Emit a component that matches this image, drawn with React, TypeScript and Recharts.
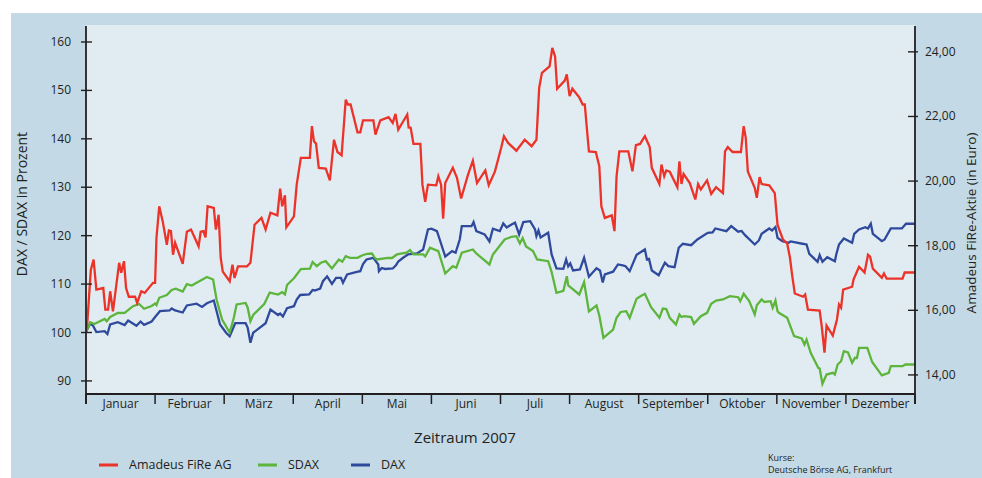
import React from 'react';
import { LineChart, Line, XAxis, YAxis } from 'recharts';

// Kursverlauf 2007, x = Monat (0 = Anfang Januar, 12 = Ende Dezember)
const MONATE = ['Januar', 'Februar', 'März', 'April', 'Mai', 'Juni', 'Juli', 'August', 'September', 'Oktober', 'November', 'Dezember'];
const PROZENT_TICKS = [90, 100, 110, 120, 130, 140, 150, 160];
const EURO_TICKS = [14, 16, 18, 20, 22, 24];

// Amadeus FiRe AG, Kurs in Euro (rechte Achse)
const AMADEUS: [number, number][] = [
    [0, 15.35], [0.02, 15.65], [0.07, 17.26], [0.11, 17.57], [0.15, 16.64], [0.25, 16.69], [0.28, 16.02], [0.32, 16.02],
    [0.35, 16.59], [0.39, 15.97], [0.48, 17.47], [0.51, 17.16], [0.55, 17.52], [0.58, 16.69], [0.62, 16.42], [0.71, 16.42],
    [0.74, 16.23], [0.8, 16.59], [0.85, 16.54], [0.97, 16.85], [1.0, 16.85], [1.02, 18.24], [1.06, 19.22], [1.11, 18.76],
    [1.17, 18.03], [1.2, 18.47], [1.23, 18.45], [1.26, 17.72], [1.29, 18.09], [1.4, 17.44], [1.46, 18.43], [1.52, 18.5],
    [1.63, 17.98], [1.66, 18.43], [1.7, 18.45], [1.73, 18.26], [1.76, 19.22], [1.85, 19.17], [1.88, 18.5], [1.92, 18.96],
    [1.95, 17.62], [1.98, 17.2], [2.08, 16.9], [2.12, 17.41], [2.15, 17.0], [2.2, 17.36], [2.33, 17.36], [2.38, 17.47],
    [2.44, 18.65], [2.54, 18.86], [2.6, 18.5], [2.67, 19.02], [2.77, 18.94], [2.81, 19.77], [2.84, 19.22], [2.88, 19.56],
    [2.9, 18.57], [3.01, 18.91], [3.05, 19.89], [3.11, 20.72], [3.24, 20.72], [3.27, 21.7], [3.3, 21.23], [3.33, 21.16],
    [3.37, 20.41], [3.47, 20.39], [3.53, 20.02], [3.59, 21.28], [3.64, 20.9], [3.7, 20.8], [3.76, 22.52], [3.79, 22.37],
    [3.83, 22.37], [3.93, 21.51], [3.97, 21.51], [4.01, 21.88], [4.16, 21.88], [4.19, 21.44], [4.26, 21.88], [4.38, 21.98],
    [4.44, 21.8], [4.48, 22.08], [4.52, 21.59], [4.65, 22.06], [4.67, 21.66], [4.7, 21.65], [4.74, 21.15], [4.84, 21.15],
    [4.87, 19.89], [4.91, 19.36], [4.95, 19.89], [5.07, 19.87], [5.1, 20.15], [5.14, 19.89], [5.17, 18.84], [5.2, 19.94],
    [5.31, 20.41], [5.37, 20.1], [5.43, 19.46], [5.53, 20.2], [5.6, 20.63], [5.66, 19.94], [5.78, 20.33], [5.83, 19.87],
    [5.92, 20.3], [6.01, 21.03], [6.05, 21.39], [6.11, 21.18], [6.23, 20.94], [6.35, 21.28], [6.45, 21.08], [6.52, 21.28],
    [6.56, 22.89], [6.6, 23.35], [6.71, 23.55], [6.75, 24.12], [6.79, 23.86], [6.82, 22.86], [6.93, 23.11], [6.96, 23.3],
    [7.0, 22.63], [7.04, 22.86], [7.14, 22.59], [7.19, 22.37], [7.22, 22.37], [7.26, 21.39], [7.28, 20.92], [7.38, 20.9],
    [7.43, 20.46], [7.46, 19.22], [7.51, 18.86], [7.61, 18.94], [7.65, 18.45], [7.68, 20.15], [7.72, 20.92], [7.85, 20.92],
    [7.91, 20.3], [7.96, 21.11], [8.02, 21.15], [8.09, 21.39], [8.16, 21.05], [8.19, 20.41], [8.3, 19.91], [8.33, 20.51],
    [8.37, 20.15], [8.4, 20.33], [8.45, 20.29], [8.56, 19.81], [8.59, 20.61], [8.62, 19.91], [8.65, 20.22], [8.74, 19.94],
    [8.82, 19.43], [8.86, 19.91], [8.9, 19.74], [8.99, 20.02], [9.05, 19.6], [9.12, 19.81], [9.22, 19.63], [9.25, 20.92],
    [9.29, 21.05], [9.36, 20.9], [9.48, 20.9], [9.52, 21.7], [9.55, 21.34], [9.58, 20.3], [9.68, 19.79], [9.71, 19.48],
    [9.75, 20.12], [9.78, 19.91], [9.89, 19.87], [9.97, 19.63], [10.01, 18.65], [10.04, 18.47], [10.09, 18.19], [10.15, 18.07],
    [10.19, 17.63], [10.22, 17.11], [10.26, 16.52], [10.38, 16.42], [10.41, 16.49], [10.45, 16.02], [10.62, 15.99], [10.65, 15.5],
    [10.69, 14.69], [10.72, 15.53], [10.81, 15.22], [10.87, 15.71], [10.9, 16.18], [10.93, 16.08], [10.96, 16.64], [11.09, 16.73],
    [11.11, 16.95], [11.19, 17.35], [11.27, 17.17], [11.32, 17.72], [11.35, 17.66], [11.39, 17.29], [11.52, 17.01], [11.55, 17.14],
    [11.59, 16.98], [11.82, 16.98], [11.85, 17.17], [12, 17.17],
];

// SDAX in Prozent (linke Achse)
const SDAX: [number, number][] = [
    [0, 100.1], [0.06, 102.13], [0.12, 101.76], [0.27, 102.79], [0.3, 102.33], [0.35, 103.2], [0.46, 104.03], [0.56, 104.07],
    [0.68, 105.43], [0.77, 105.89], [0.84, 104.9], [0.95, 105.48], [1.0, 105.99], [1.02, 105.68], [1.06, 107.17], [1.17, 107.75],
    [1.24, 108.78], [1.3, 109.05], [1.4, 108.47], [1.46, 109.98], [1.53, 109.71], [1.66, 110.74], [1.75, 111.47], [1.84, 110.95],
    [1.89, 106.82], [1.97, 102.69], [2.08, 100.0], [2.14, 103.04], [2.18, 105.79], [2.31, 106.1], [2.34, 105.17], [2.38, 102.33],
    [2.42, 103.62], [2.58, 105.89], [2.66, 108.26], [2.78, 107.85], [2.84, 108.33], [2.88, 107.85], [2.91, 109.81], [3.01, 111.2],
    [3.11, 113.1], [3.24, 113.18], [3.28, 114.57], [3.34, 113.7], [3.4, 114.4], [3.47, 114.73], [3.56, 113.22], [3.66, 115.08],
    [3.71, 114.61], [3.76, 115.76], [3.82, 115.43], [3.93, 115.43], [4.01, 116.01], [4.07, 116.22], [4.14, 116.32], [4.18, 115.43],
    [4.21, 115.08], [4.37, 115.43], [4.43, 115.39], [4.5, 116.12], [4.64, 116.47], [4.69, 117.0], [4.74, 116.12], [4.88, 116.12],
    [4.91, 115.7], [4.98, 117.5], [5.1, 116.8], [5.2, 112.19], [5.31, 113.7], [5.36, 113.37], [5.44, 116.47], [5.6, 117.15],
    [5.65, 116.32], [5.84, 114.05], [5.89, 116.12], [6.04, 118.86], [6.06, 119.21], [6.16, 119.77], [6.23, 119.9], [6.28, 118.39],
    [6.32, 119.52], [6.37, 117.77], [6.47, 116.84], [6.53, 115.08], [6.69, 114.73], [6.74, 112.5], [6.81, 108.2], [6.91, 108.62],
    [6.96, 111.63], [6.98, 109.71], [7.14, 107.85], [7.21, 110.43], [7.28, 104.34], [7.39, 105.58], [7.43, 103.51], [7.49, 98.9],
    [7.63, 100.62], [7.68, 103.04], [7.74, 104.24], [7.82, 104.4], [7.87, 103.0], [7.97, 106.98], [8.02, 107.44], [8.09, 108.0],
    [8.18, 105.23], [8.3, 103.04], [8.35, 104.96], [8.4, 104.86], [8.45, 103.04], [8.54, 101.65], [8.59, 103.72], [8.62, 103.2],
    [8.66, 103.37], [8.76, 103.2], [8.8, 101.8], [8.9, 103.37], [8.99, 104.07], [9.05, 105.93], [9.12, 106.61], [9.22, 106.82],
    [9.32, 107.5], [9.44, 107.29], [9.47, 106.47], [9.52, 108.0], [9.6, 106.47], [9.68, 103.72], [9.71, 105.64], [9.78, 106.82],
    [9.82, 106.3], [9.91, 106.47], [9.94, 105.1], [9.98, 106.61], [10.01, 104.4], [10.03, 104.07], [10.15, 103.04], [10.25, 99.24],
    [10.36, 98.76], [10.4, 97.52], [10.43, 98.55], [10.49, 95.81], [10.6, 92.71], [10.62, 92.56], [10.66, 89.4], [10.72, 91.32],
    [10.81, 91.67], [10.84, 91.32], [10.88, 93.39], [10.93, 94.07], [10.97, 96.14], [11.03, 95.87], [11.09, 93.74], [11.13, 94.77],
    [11.16, 94.73], [11.19, 96.84], [11.31, 96.84], [11.38, 93.9], [11.52, 91.16], [11.62, 91.67], [11.65, 93.04], [11.82, 93.04],
    [11.86, 93.39], [12, 93.39],
];

// DAX in Prozent (linke Achse)
const DAX: [number, number][] = [
    [0, 100.1], [0.06, 101.86], [0.1, 101.45], [0.15, 100.1], [0.27, 100.27], [0.31, 99.69], [0.35, 101.65], [0.46, 102.13],
    [0.56, 101.55], [0.61, 102.48], [0.73, 101.38], [0.79, 102.27], [0.84, 101.59], [0.95, 102.27], [1.0, 103.2], [1.07, 104.4],
    [1.21, 104.55], [1.24, 104.96], [1.29, 104.55], [1.4, 104.13], [1.46, 105.58], [1.6, 105.95], [1.68, 105.27], [1.75, 106.03],
    [1.85, 106.61], [1.89, 104.44], [1.94, 101.65], [2.03, 99.9], [2.08, 99.24], [2.16, 101.92], [2.31, 101.92], [2.34, 101.03],
    [2.38, 97.87], [2.42, 99.94], [2.6, 101.92], [2.67, 104.75], [2.78, 103.62], [2.81, 103.93], [2.85, 103.31], [2.91, 105.02],
    [3.01, 105.43], [3.05, 106.82], [3.1, 107.75], [3.23, 107.85], [3.28, 108.78], [3.31, 108.68], [3.39, 109.09], [3.43, 110.6],
    [3.49, 111.57], [3.56, 110.02], [3.62, 111.3], [3.69, 111.3], [3.72, 110.27], [3.78, 111.98], [3.92, 112.54], [3.97, 112.67],
    [4.01, 114.15], [4.06, 115.08], [4.16, 115.43], [4.23, 114.05], [4.24, 112.67], [4.28, 113.33], [4.33, 113.12], [4.44, 113.22],
    [4.49, 113.95], [4.52, 114.67], [4.59, 115.43], [4.66, 116.12], [4.79, 116.32], [4.88, 117.15], [4.95, 121.28], [5.0, 121.43],
    [5.08, 120.93], [5.12, 119.21], [5.2, 115.7], [5.3, 116.8], [5.35, 116.47], [5.41, 119.21], [5.44, 121.96], [5.58, 121.96],
    [5.61, 122.79], [5.65, 120.93], [5.77, 120.25], [5.84, 118.8], [5.89, 121.43], [5.99, 120.93], [6.04, 122.52], [6.09, 121.69],
    [6.16, 122.31], [6.21, 122.67], [6.27, 120.25], [6.33, 122.79], [6.43, 123.0], [6.5, 121.28], [6.52, 119.9], [6.55, 121.07],
    [6.58, 119.63], [6.69, 120.6], [6.74, 116.12], [6.81, 113.22], [6.91, 113.16], [6.95, 115.08], [6.98, 113.64], [7.01, 114.26],
    [7.05, 112.81], [7.15, 113.02], [7.21, 115.43], [7.28, 111.53], [7.39, 113.26], [7.44, 112.81], [7.48, 110.33], [7.51, 111.98],
    [7.63, 112.56], [7.7, 114.05], [7.77, 113.84], [7.81, 113.7], [7.87, 112.67], [7.97, 116.05], [8.09, 117.15], [8.12, 115.08],
    [8.15, 115.19], [8.19, 112.81], [8.29, 111.84], [8.33, 113.02], [8.38, 114.4], [8.43, 113.7], [8.52, 113.49], [8.58, 117.5],
    [8.64, 118.33], [8.76, 118.04], [8.85, 119.21], [9.0, 120.6], [9.07, 120.66], [9.11, 121.49], [9.27, 120.93], [9.34, 121.96],
    [9.44, 120.81], [9.49, 120.97], [9.54, 120.1], [9.68, 118.18], [9.74, 119.01], [9.78, 120.39], [9.89, 121.49], [9.93, 121.07],
    [9.98, 121.76], [10.01, 119.57], [10.08, 118.86], [10.17, 118.53], [10.2, 118.8], [10.37, 118.33], [10.43, 118.18], [10.47, 116.26],
    [10.59, 114.61], [10.62, 115.97], [10.66, 114.61], [10.73, 115.56], [10.84, 114.73], [10.86, 116.12], [10.9, 118.18], [10.97, 119.42],
    [11.09, 118.53], [11.12, 120.39], [11.19, 121.28], [11.28, 121.76], [11.32, 121.49], [11.36, 122.46], [11.39, 120.39], [11.52, 118.86],
    [11.56, 119.21], [11.65, 121.49], [11.81, 121.49], [11.87, 122.46], [12, 122.46],
];

const ROT = '#eb3329';
const GRUEN = '#5db53c';
const BLAU = '#2f4a9d';
const TINTE = '#231f20';
const FONT = '"Open Sans", sans-serif';

const PLOT_LEFT = 86;
const PLOT_RIGHT = 915;
const MONAT_BREITE = (PLOT_RIGHT - PLOT_LEFT) / 12;

const toRows = (pts: [number, number][]) => pts.map(([m, v]) => ({ m, v }));

const ProzentTick = ({ x, y, payload }: any) => (
    <g>
        <line x1={x - 5} x2={x + 6} y1={y} y2={y} stroke={TINTE} strokeWidth={1.4} />
        <text x={x - 15} y={y} dy={4} textAnchor="end" fontSize={12} fill={TINTE} fontFamily={FONT}>
            {payload.value}
        </text>
    </g>
);

const EuroTick = ({ x, y, payload }: any) => (
    <g>
        <line x1={x - 7} x2={x + 3} y1={y} y2={y} stroke={TINTE} strokeWidth={1.4} />
        <text x={x + 10} y={y} dy={4} textAnchor="start" fontSize={12} fill={TINTE} fontFamily={FONT}>
            {payload.value.toFixed(2).replace('.', ',')}
        </text>
    </g>
);

const MonatTick = ({ x, y, payload }: any) => {
    const label = MONATE[payload.value];
    return (
        <g>
            <line x1={x} x2={x} y1={y} y2={y + 10} stroke={TINTE} strokeWidth={1.5} />
            {label && (
                <text x={x + MONAT_BREITE / 2} y={y + 14} textAnchor="middle" fontSize={12} fill={TINTE} fontFamily={FONT}>
                    {label}
                </text>
            )}
        </g>
    );
};

const legendItems = [
    { name: 'Amadeus FiRe AG', color: ROT, x: 99 },
    { name: 'SDAX', color: GRUEN, x: 258 },
    { name: 'DAX', color: BLAU, x: 351 },
];

export default function App() {
    return (
        <div style={{ position: 'absolute', left: 0, top: 0, width: 982, height: 478, background: '#fff', fontFamily: FONT }}>
            <div style={{ position: 'absolute', left: 11, top: 13, width: 971, height: 465, background: '#c3d9e5' }} />
            <div style={{ position: 'absolute', left: PLOT_LEFT, top: 25, width: PLOT_RIGHT - PLOT_LEFT, height: 369, background: '#e1ecf2' }} />
            <div style={{ position: 'absolute', left: 0, top: 0 }}>
                <LineChart width={982} height={478} margin={{ top: 26, right: 0, bottom: 54, left: 0 }}>
                    <XAxis
                        type="number"
                        dataKey="m"
                        domain={[0, 12]}
                        ticks={[0, 1, 2, 3, 4, 5, 6, 7, 8, 9, 10, 11, 12]}
                        tick={<MonatTick />}
                        tickLine={false}
                        tickSize={0}
                        tickMargin={0}
                        height={30}
                        axisLine={{ stroke: TINTE, strokeWidth: 2 }}
                        allowDataOverflow
                    />
                    <YAxis
                        yAxisId="pct"
                        orientation="left"
                        width={86}
                        domain={[87.3, 163.3]}
                        ticks={PROZENT_TICKS}
                        tick={<ProzentTick />}
                        tickLine={false}
                        tickSize={0}
                        tickMargin={0}
                        axisLine={{ stroke: TINTE, strokeWidth: 1.8 }}
                        allowDataOverflow
                    />
                    <YAxis
                        yAxisId="eur"
                        orientation="right"
                        width={67}
                        domain={[13.41, 24.8]}
                        ticks={EURO_TICKS}
                        tick={<EuroTick />}
                        tickLine={false}
                        tickSize={0}
                        tickMargin={0}
                        axisLine={{ stroke: TINTE, strokeWidth: 1.8 }}
                        allowDataOverflow
                    />
                    <Line yAxisId="pct" data={toRows(DAX)} dataKey="v" name="DAX" stroke={BLAU} strokeWidth={2.3} dot={false} isAnimationActive={false} />
                    <Line yAxisId="pct" data={toRows(SDAX)} dataKey="v" name="SDAX" stroke={GRUEN} strokeWidth={2.3} dot={false} isAnimationActive={false} />
                    <Line yAxisId="eur" data={toRows(AMADEUS)} dataKey="v" name="Amadeus FiRe AG" stroke={ROT} strokeWidth={2.3} dot={false} isAnimationActive={false} />
                </LineChart>
            </div>
            <svg width={982} height={478} style={{ position: 'absolute', left: 0, top: 0, pointerEvents: 'none' }} fontFamily={FONT}>
                {/* vertical line down to the last month tick */}
                <line x1={PLOT_LEFT} x2={PLOT_LEFT} y1={394} y2={404} stroke={TINTE} strokeWidth={1.8} />
                <line x1={PLOT_RIGHT} x2={PLOT_RIGHT} y1={394} y2={404} stroke={TINTE} strokeWidth={1.8} />
                <text transform="translate(22,204) rotate(-90)" textAnchor="middle" dy="0.35em" fontSize={14} fill={TINTE}>
                    DAX / SDAX in Prozent
                </text>
                <text transform="translate(971,223) rotate(-90)" textAnchor="middle" dy="0.35em" fontSize={13.5} fill={TINTE}>
                    Amadeus FiRe-Aktie (in Euro)
                </text>
                <text x={465} y={438} textAnchor="middle" dy="0.35em" fontSize={15} fill={TINTE}>
                    Zeitraum 2007
                </text>
                {legendItems.map((it) => (
                    <g key={it.name}>
                        <line x1={it.x} x2={it.x + 19} y1={465} y2={465} stroke={it.color} strokeWidth={3} />
                        <text x={it.x + 30} y={465} dy="0.35em" fontSize={12.5} fill={TINTE}>
                            {it.name}
                        </text>
                    </g>
                ))}
                <text x={768} y={458} dy="0.35em" fontSize={9} fill={TINTE}>Kurse:</text>
                <text x={768} y={470} dy="0.35em" fontSize={9} fill={TINTE}>Deutsche Börse AG, Frankfurt</text>
            </svg>
        </div>
    );
}
